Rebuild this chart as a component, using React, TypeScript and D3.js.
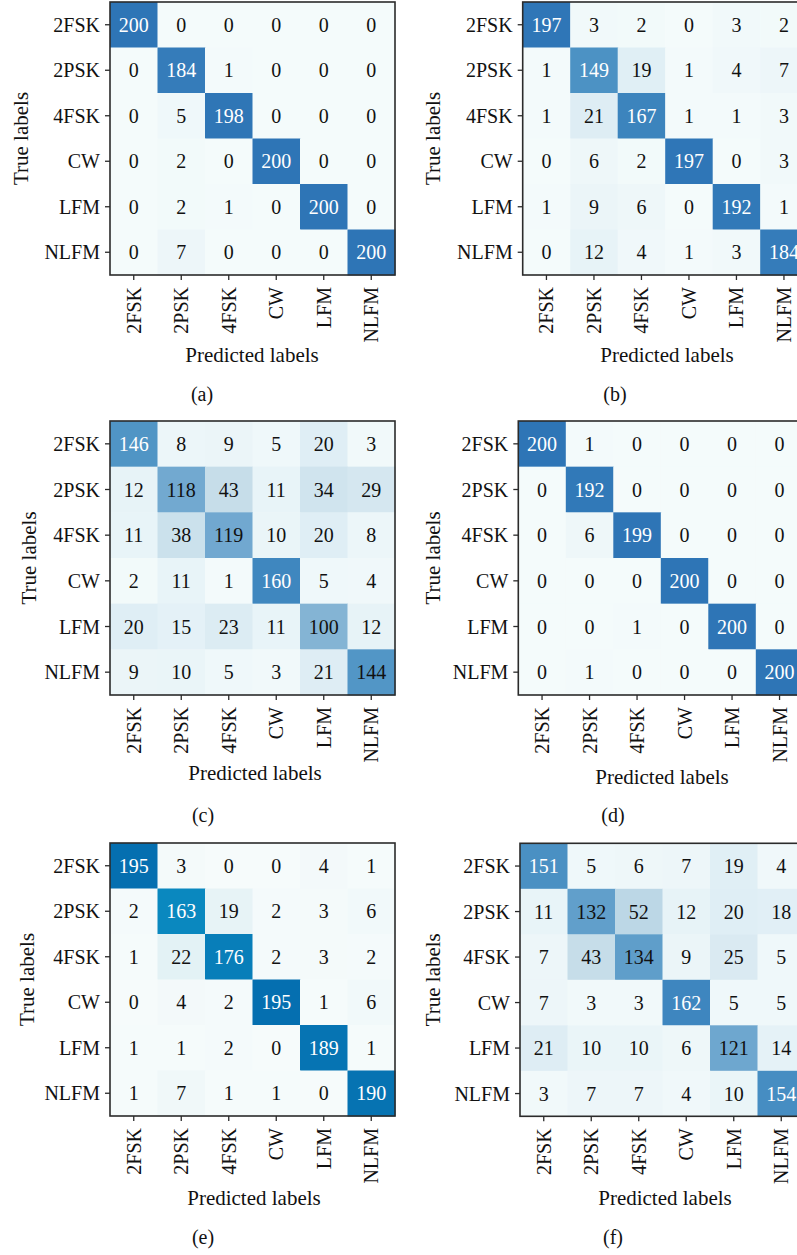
import React from "react";
import * as d3 from "d3";

const labels = ["2FSK", "2PSK", "4FSK", "CW", "LFM", "NLFM"];

const matA = [
  [200, 0, 0, 0, 0, 0],
  [0, 184, 1, 0, 0, 0],
  [0, 5, 198, 0, 0, 0],
  [0, 2, 0, 200, 0, 0],
  [0, 2, 1, 0, 200, 0],
  [0, 7, 0, 0, 0, 200],
];
const matB = [
  [197, 3, 2, 0, 3, 2],
  [1, 149, 19, 1, 4, 7],
  [1, 21, 167, 1, 1, 3],
  [0, 6, 2, 197, 0, 3],
  [1, 9, 6, 0, 192, 1],
  [0, 12, 4, 1, 3, 184],
];
const matC = [
  [146, 8, 9, 5, 20, 3],
  [12, 118, 43, 11, 34, 29],
  [11, 38, 119, 10, 20, 8],
  [2, 11, 1, 160, 5, 4],
  [20, 15, 23, 11, 100, 12],
  [9, 10, 5, 3, 21, 144],
];
const matD = [
  [200, 1, 0, 0, 0, 0],
  [0, 192, 0, 0, 0, 0],
  [0, 6, 199, 0, 0, 0],
  [0, 0, 0, 200, 0, 0],
  [0, 0, 1, 0, 200, 0],
  [0, 1, 0, 0, 0, 200],
];
const matE = [
  [195, 3, 0, 0, 4, 1],
  [2, 163, 19, 2, 3, 6],
  [1, 22, 176, 2, 3, 2],
  [0, 4, 2, 195, 1, 6],
  [1, 1, 2, 0, 189, 1],
  [1, 7, 1, 1, 0, 190],
];
const matF = [
  [151, 5, 6, 7, 19, 4],
  [11, 132, 52, 12, 20, 18],
  [7, 43, 134, 9, 25, 5],
  [7, 3, 3, 162, 5, 5],
  [21, 10, 10, 6, 121, 14],
  [3, 7, 7, 4, 10, 154],
];

const blueStops = [0, 20, 43, 100, 118, 146, 160, 200];
const blueColors = ["#f4fbfb", "#dfeef5", "#c6dde9", "#84b4d4", "#72a9d0", "#5095c5", "#3f87bf", "#2e75b6"];
const pubuStops = [0, 20, 163, 195, 200];
const pubuColors = ["#f6fbfb", "#e6f3f6", "#0a88bf", "#056fb0", "#046cae"];

const blues = d3.scaleLinear<string>().domain(blueStops).range(blueColors).interpolate(d3.interpolateRgb).clamp(true);
const pubu = d3.scaleLinear<string>().domain(pubuStops).range(pubuColors).interpolate(d3.interpolateRgb).clamp(true);

const FONT = "Liberation Serif, DejaVu Serif, Times New Roman, serif";
const FS = 20;
const FS_LABEL = 21;

type PanelProps = {
  data: number[][];
  x0: number;
  y0: number;
  w: number;
  h: number;
  color: (v: number) => string;
  trueX: number;
  predX: number;
  predY: number;
  capX: number;
  capY: number;
  caption: string;
};

function Panel(p: PanelProps) {
  const x = d3.scaleBand<string>().domain(labels).range([p.x0, p.x0 + p.w]);
  const y = d3.scaleBand<string>().domain(labels).range([p.y0, p.y0 + p.h]);
  const y1 = p.y0 + p.h;
  return (
    <g style={{ fontFamily: FONT, fontSize: FS }}>
      {p.data.map((row, i) =>
        row.map((v, j) => (
          <rect
            key={`r${i}-${j}`}
            x={x(labels[j])!}
            y={y(labels[i])!}
            width={x.bandwidth() + 0.5}
            height={y.bandwidth() + 0.5}
            fill={p.color(v)}
          />
        ))
      )}
      {p.data.map((row, i) =>
        row.map((v, j) => (
          <text
            key={`t${i}-${j}`}
            x={x(labels[j])! + x.bandwidth() / 2}
            y={y(labels[i])! + y.bandwidth() / 2}
            textAnchor="middle"
            dominantBaseline="central"
            fill={v > 145 ? "#ffffff" : "#111111"}
          >
            {v}
          </text>
        ))
      )}
      <rect x={p.x0} y={p.y0} width={p.w} height={p.h} fill="none" stroke="#2b2b2b" strokeWidth={1.6} />
      {labels.map((l) => (
        <g key={`y${l}`}>
          <line
            x1={p.x0 - 5}
            x2={p.x0}
            y1={y(l)! + y.bandwidth() / 2}
            y2={y(l)! + y.bandwidth() / 2}
            stroke="#2b2b2b"
            strokeWidth={1.3}
          />
          <text
            x={p.x0 - 10}
            y={y(l)! + y.bandwidth() / 2}
            textAnchor="end"
            dominantBaseline="central"
            fill="#111"
          >
            {l}
          </text>
        </g>
      ))}
      {labels.map((l) => {
        const cx = x(l)! + x.bandwidth() / 2;
        return (
          <g key={`x${l}`}>
            <line x1={cx} x2={cx} y1={y1} y2={y1 + 5} stroke="#2b2b2b" strokeWidth={1.3} />
            <text
              transform={`translate(${cx},${y1 + 12}) rotate(-90)`}
              textAnchor="end"
              dominantBaseline="central"
              fill="#111"
            >
              {l}
            </text>
          </g>
        );
      })}
      <text
        transform={`translate(${p.trueX},${p.y0 + p.h / 2}) rotate(-90)`}
        textAnchor="middle"
        dominantBaseline="central"
        fill="#111"
        style={{ fontSize: FS_LABEL }}
      >
        True labels
      </text>
      <text x={p.predX} y={p.predY} textAnchor="middle" dominantBaseline="central" fill="#111" style={{ fontSize: FS_LABEL }}>
        Predicted labels
      </text>
      <text x={p.capX} y={p.capY} textAnchor="middle" dominantBaseline="central" fill="#111">
        {p.caption}
      </text>
    </g>
  );
}

export default function App() {
  return (
    <svg
      width={797}
      height={1255}
      style={{ position: "absolute", left: 0, top: 0, background: "#fff" }}
    >
      <rect x={0} y={0} width={797} height={1255} fill="#fff" />
      <Panel data={matA} x0={110} y0={2} w={285} h={273} color={blues} trueX={21} predX={252} predY={355} capX={202} capY={394} caption="(a)" />
      <Panel data={matB} x0={522.7} y0={2} w={285} h={273} color={blues} trueX={433} predX={667} predY={355} capX={615} capY={394} caption="(b)" />
      <Panel data={matC} x0={110} y0={421} w={285} h={274} color={blues} trueX={29} predX={255} predY={773} capX={203} capY={815} caption="(c)" />
      <Panel data={matD} x0={518.3} y0={421} w={285} h={274} color={blues} trueX={433} predX={662} predY={777} capX={613} capY={815} caption="(d)" />
      <Panel data={matE} x0={110} y0={843} w={285} h={273} color={pubu} trueX={27} predX={254} predY={1198} capX={203} capY={1237} caption="(e)" />
      <Panel data={matF} x0={520} y0={843.3} w={285} h={273} color={blues} trueX={433} predX={665} predY={1198} capX={613} capY={1237} caption="(f)" />
    </svg>
  );
}
